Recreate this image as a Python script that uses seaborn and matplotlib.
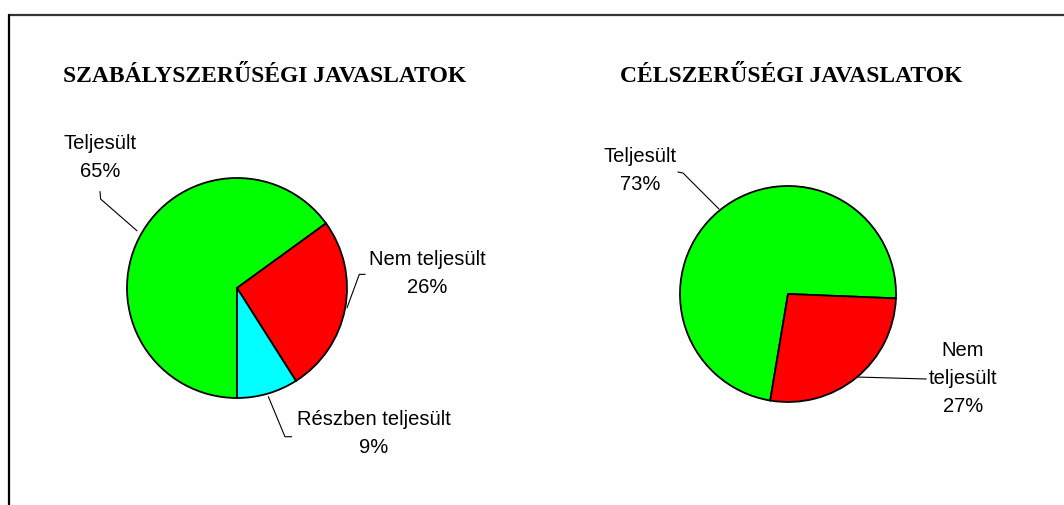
import matplotlib
matplotlib.use("Agg")
import matplotlib.pyplot as plt
from matplotlib.lines import Line2D
import seaborn as sns

sns.set_theme(style="white")
plt.rcParams['font.family'] = ['Liberation Sans', 'DejaVu Sans']

# data
left_title = 'SZABÁLYSZERŰSÉGI JAVASLATOK'
left_labels = ['Teljesült', 'Nem teljesült', 'Részben teljesült']
left_values = [65, 26, 9]

right_title = 'CÉLSZERŰSÉGI JAVASLATOK'
right_labels = ['Teljesült', 'Nem\nteljesült']
right_values = [73, 27]

colors = ['#00ff00', '#ff0000', '#00ffff']

W, H = 1064, 505
fig = plt.figure(figsize=(W / 100, H / 100), dpi=100)
fig.patch.set_facecolor('white')

LABEL_SIZE = 14.5


def pie_axes(cx, cy, r):
    # pixel centre/radius (y from top) -> axes in figure fraction
    ax = fig.add_axes([(cx - r) / W, (H - cy - r) / H, 2 * r / W, 2 * r / H])
    ax.set_xlim(-1, 1)
    ax.set_ylim(-1, 1)
    ax.set_aspect('equal')
    ax.axis('off')
    return ax


def draw_pie(ax, values, start):
    ax.pie(values, colors=colors[:len(values)], startangle=start, counterclock=False,
           radius=1, wedgeprops=dict(edgecolor='black', linewidth=1.3))
    ax.set_xlim(-1, 1)
    ax.set_ylim(-1, 1)


def label(ax, text, xy, leader):
    ax.text(xy[0], xy[1], text, ha='center', va='center', fontsize=LABEL_SIZE,
            linespacing=1.6, color='black', clip_on=False)
    xs, ys = zip(*leader)
    ax.add_line(Line2D(xs, ys, color='black', lw=0.8, clip_on=False))


# left pie: centre (237, 288) px, radius 110 px
axl = pie_axes(237, 288, 110)
draw_pie(axl, left_values, -90)
pct_l = [f'{lab}\n{v}%' for lab, v in zip(left_labels, left_values)]
label(axl, pct_l[0], (-1.241, 1.19), [(-1.245, 0.877), (-1.24, 0.809), (-0.909, 0.52)])
label(axl, pct_l[1], (1.727, 0.136), [(1.165, 0.124), (1.112, 0.124), (1.0, -0.18)])
label(axl, pct_l[2], (1.245, -1.323), [(0.285, -0.988), (0.436, -1.352), (0.497, -1.352)])

# right pie: centre (788, 294) px, radius 108 px
axr = pie_axes(788, 294, 108)
draw_pie(axr, right_values, -99.5)
pct_r = [f'{lab}\n{v}%' for lab, v in zip(right_labels, right_values)]
label(axr, pct_r[0], (-1.37, 1.139), [(-1.019, 1.13), (-0.972, 1.12), (-0.639, 0.787)])
label(axr, pct_r[1], (1.62, -0.778), [(0.648, -0.769), (1.28, -0.787)])

# titles
title_font = dict(family=['Liberation Serif', 'DejaVu Serif'], fontweight='bold',
                  fontsize=17, color='black')
fig.text(264.5 / W, 1 - 76 / H, left_title, ha='center', va='center', **title_font)
fig.text(791 / W, 1 - 76 / H, right_title, ha='center', va='center', **title_font)

# chart area border (top and left edges visible)
fig.add_artist(Line2D([9 / W, 1.0], [1 - 15 / H, 1 - 15 / H], color='#333333', lw=1.6))
fig.add_artist(Line2D([9 / W, 9 / W], [0, 1 - 15 / H], color='black', lw=1.6))

fig.savefig('out.png', dpi=100, facecolor='white')
